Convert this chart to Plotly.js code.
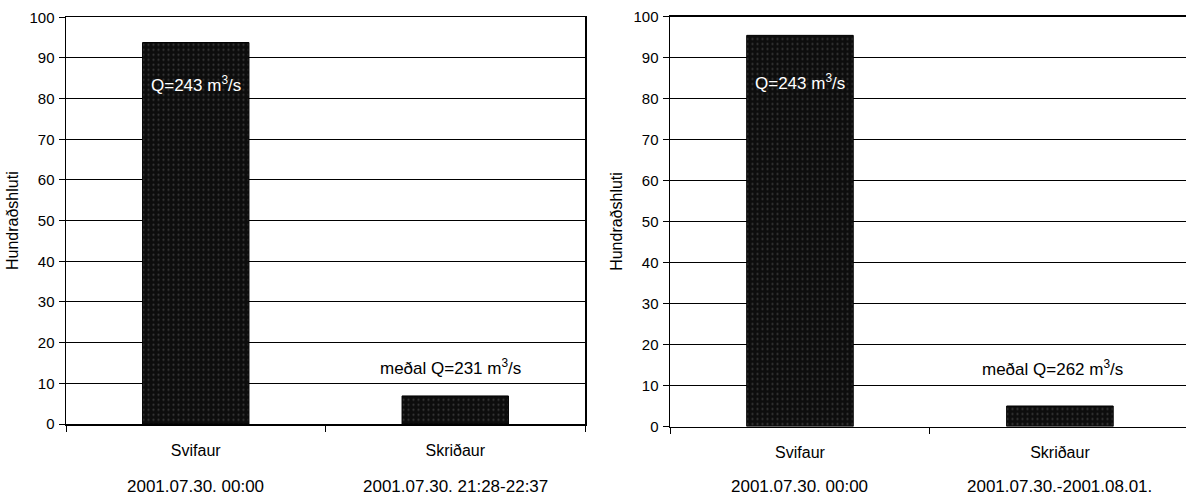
<!DOCTYPE html>
<html>
<head>
<meta charset="utf-8">
<script src="https://cdn.plot.ly/plotly-3.0.1.min.js"></script>
<style>html,body{margin:0;padding:0;background:#fff;overflow:hidden}#chart{width:1186px;height:498px}</style>
</head>
<body>
<div id="chart"></div>
<script>
const categories = ['Svifaur', 'Skriðaur'];
const valuesLeft = [93.8, 6.9];
const valuesRight = [95.4, 5.0];
const datesLeft = ['2001.07.30. 00:00', '2001.07.30. 21:28-22:37'];
const datesRight = ['2001.07.30. 00:00', '2001.07.30.-2001.08.01.'];
const flowLeft = ['Q=243 m<sup>3</sup>/s', 'meðal Q=231 m<sup>3</sup>/s'];
const flowRight = ['Q=243 m<sup>3</sup>/s', 'meðal Q=262 m<sup>3</sup>/s'];
const yTitle = 'Hundraðshluti';

const FONT = 'Liberation Sans, Arial, sans-serif';
const barMarker = {
  color: '#0d0d0d',
  line: {color: '#000', width: 1},
  pattern: {shape: '.', fgcolor: '#3a3a3a', bgcolor: '#0d0d0d', size: 5, solidity: 0.15}
};

const traces = [
  {type: 'bar', x: categories, y: valuesLeft, xaxis: 'x', yaxis: 'y', marker: barMarker, hoverinfo: 'skip'},
  {type: 'bar', x: categories, y: valuesRight, xaxis: 'x2', yaxis: 'y2', marker: barMarker, hoverinfo: 'skip'}
];

const xCommon = {
  type: 'category', showgrid: false, showline: true, linecolor: '#000', linewidth: 1.5,
  mirror: true, ticks: 'outside', ticklen: 6, tickcolor: '#000', tickwidth: 1,
  tickson: 'boundaries', ticklabelstandoff: 11,
  tickfont: {family: FONT, size: 16, color: '#000'}, fixedrange: true
};
const yCommon = {
  range: [0, 100], dtick: 10, showgrid: true, gridcolor: '#000', gridwidth: 1,
  showline: true, linecolor: '#000', linewidth: 1.5, ticks: 'outside', ticklen: 6,
  tickcolor: '#000', zeroline: false, ticklabelstandoff: 1,
  tickfont: {family: FONT, size: 15, color: '#000'},
  title: {text: yTitle, font: {family: FONT, size: 16, color: '#000'}, standoff: 7},
  fixedrange: true
};

const annotations = [];
function addAnn(xref, yref, x, y, text, color, size) {
  annotations.push({xref, yref, x, y, text, showarrow: false, xanchor: 'center', yanchor: 'middle',
    font: {family: FONT, size: size, color: color}});
}
// flow labels
addAnn('x', 'y', 0, 83.6, flowLeft[0], '#fff', 17);
addAnn('x', 'y', 0.98, 14, flowLeft[1], '#000', 17);
addAnn('x2', 'y2', 0, 84, flowRight[0], '#fff', 17);
addAnn('x2', 'y2', 0.97, 14.3, flowRight[1], '#000', 17);
// date labels
for (let i = 0; i < categories.length; i++) {
  addAnn('x', 'paper', categories[i], 0.0231, datesLeft[i], '#000', 17);
  addAnn('x2', 'paper', categories[i], 0.0231, datesRight[i], '#000', 17);
}

const layout = {
  width: 1186, height: 498,
  margin: {l: 0, r: 0, t: 0, b: 0},
  paper_bgcolor: '#fff', plot_bgcolor: '#fff',
  showlegend: false, bargap: 0.59,
  font: {family: FONT, color: '#000'},
  xaxis: Object.assign({}, xCommon, {domain: [66/1186, 585/1186], anchor: 'y', range: [-0.5, 1.5]}),
  yaxis: Object.assign({}, yCommon, {domain: [(498-424)/498, (498-17.3)/498], anchor: 'x', mirror: true}),
  xaxis2: Object.assign({}, xCommon, {domain: [670/1186, 1], anchor: 'y2', range: [-0.5, 1.485]}),
  yaxis2: Object.assign({}, yCommon, {domain: [(498-426.5)/498, (498-16.5)/498], anchor: 'x2', mirror: false}),
  annotations: annotations
};

Plotly.newPlot('chart', traces, layout, {displayModeBar: false, staticPlot: true});
</script>
</body>
</html>
